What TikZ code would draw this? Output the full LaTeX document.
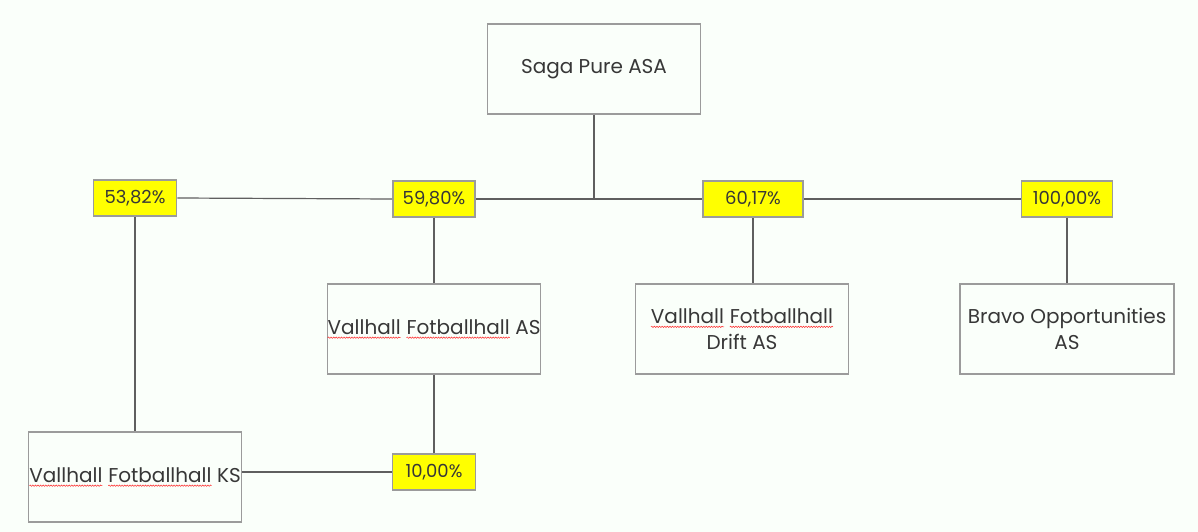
\documentclass[tikz,border=0pt]{standalone}
\usepackage{fontspec}
\setmainfont{Poppins}
\usepackage{xcolor}
\usetikzlibrary{positioning, decorations.pathmorphing}
\definecolor{bgmint}{RGB}{250,255,250}
\definecolor{boxline}{RGB}{155,155,155}
\definecolor{linkline}{RGB}{95,95,95}
\definecolor{txtgray}{RGB}{55,55,55}
\definecolor{pctyellow}{RGB}{255,255,0}
\newcommand{\spellmark}[1]{\tikz[baseline=(w.base)]{\node[draw=none, fill=none, inner sep=0pt, outer sep=0pt,
    minimum width=0pt, minimum height=0pt] (w) {#1};
  \draw[red!85, line width=0.5pt, decorate, decoration={snake, amplitude=0.7pt, segment length=2.6pt}]
    ([yshift=-3.5pt]w.base west) -- ([yshift=-3.5pt]w.base east);}}

\tikzset{
  company/.style={draw=boxline, line width=1.6pt, minimum width=213pt, minimum height=90pt,
    align=center, text=txtgray, font=\fontsize{20}{26}\selectfont, inner sep=0pt},
  share/.style={draw=boxline, line width=1.6pt, fill=pctyellow, minimum height=36pt,
    text=txtgray, font=\fontsize{18}{22}\selectfont, inner sep=0pt},
  link/.style={draw=linkline, line width=1.2pt}
}

\begin{document}
\begin{tikzpicture}[x=1pt, y=-1pt]
\fill[bgmint] (0,0) rectangle (1198,532);

% companies
\node[company] (saga) at (594,69) {Saga Pure ASA};
\node[company] (vfas) at (434,329) {\spellmark{Vallhall} \spellmark{Fotballhall} AS};
\node[company] (drift) at (742,329) {\spellmark{Vallhall} \spellmark{Fotballhall}\\Drift AS};
\node[company, minimum width=214pt] (bravo) at (1067,329) {Bravo Opportunities\\AS};
\node[company] (ks) at (135,477) {\spellmark{Vallhall} \spellmark{Fotballhall} KS};

% ownership shares
\node[share, minimum width=83pt] (p5382) at (135,198) {53,82\%};
\node[share, minimum width=82pt] (p5980) at (434,199) {59,80\%};
\node[share, minimum width=100pt] (p6017) at (753,199) {60,17\%};
\node[share, minimum width=91pt] (p10000) at (1067,199) {100,00\%};
\node[share, minimum width=83pt] (p1000) at (434,472) {10,00\%};

% connectors
\coordinate (hub) at (594,199);
\draw[link] (saga.south) -- (hub);
\draw[link] (p5382.east) -- (p5980.west);
\draw[link] (p5980.east) -- (p6017.west);
\draw[link] (p6017.east) -- (p10000.west);
\draw[link] (p5382.south) -- (ks.north);
\draw[link] (p5980.south) -- (vfas.north);
\draw[link] (vfas.south) -- (p1000.north);
\draw[link] (p1000.west) -- (p1000.west -| ks.east);
\draw[link] (p6017.south) -- (p6017.south |- drift.north);
\draw[link] (p10000.south) -- (bravo.north);

\end{tikzpicture}
\end{document}
